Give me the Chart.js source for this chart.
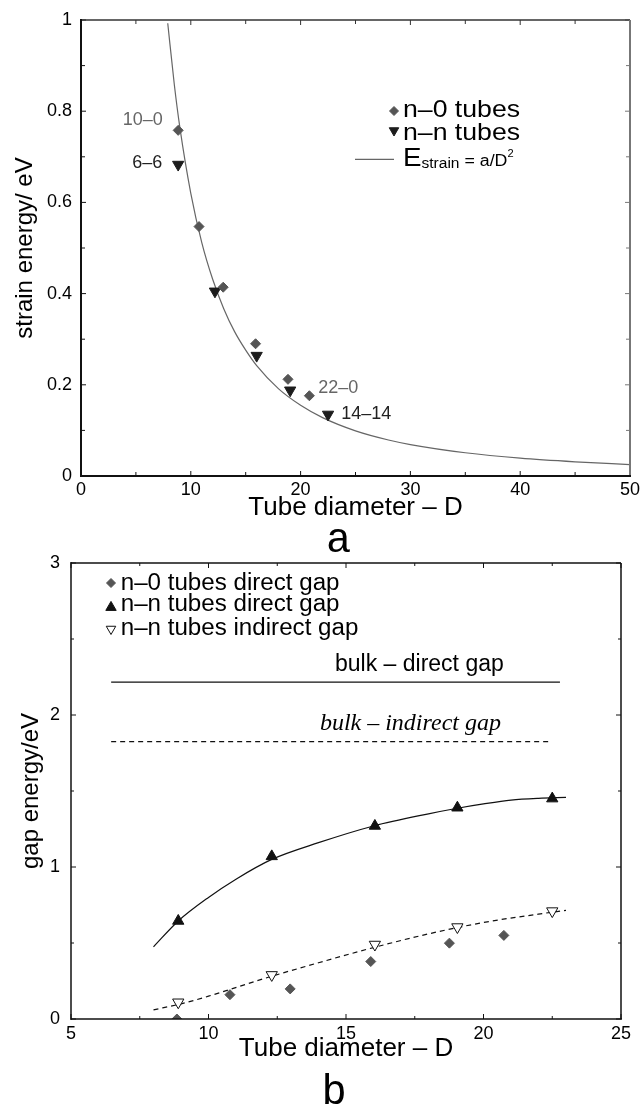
<!DOCTYPE html>
<html>
<head>
<meta charset="utf-8">
<script src="https://cdn.jsdelivr.net/npm/chart.js@4.4.1/dist/chart.umd.min.js"></script>
<style>
  body { margin: 0; background: #fff; }
  #wrap { position: relative; width: 641px; height: 1107px; }
  canvas { position: absolute; left: 0; }
  #chartA { top: 0; }
  #chartB { top: 540px; }
</style>
</head>
<body>
<div id="wrap">
  <canvas id="chartA" width="641" height="560"></canvas>
  <canvas id="chartB" width="641" height="567"></canvas>
</div>
<script>
// ---- panel a : strain energy vs diameter ----
var zigzagD = [8.85, 10.75, 12.95, 15.9, 18.85, 20.8];
var zigzagE = [0.758, 0.547, 0.414, 0.290, 0.212, 0.176];
var armD = [8.85, 12.2, 16.0, 19.05, 22.5];
var armE = [0.683, 0.405, 0.264, 0.188, 0.135];
// E_strain = a/D^2 curve
var fitD = [7.9, 8.5, 9, 10, 11, 12, 13, 14, 15, 16, 18, 20, 22, 25, 28, 30, 35, 40, 45, 50];
var fitE = [0.993, 0.858, 0.765, 0.620, 0.512, 0.431, 0.367, 0.316, 0.276, 0.242, 0.191, 0.155, 0.128, 0.099, 0.079, 0.069, 0.051, 0.039, 0.031, 0.025];

// ---- panel b : gap energy vs diameter ----
var directD0 = [8.85, 10.78, 12.97, 15.9, 18.76, 20.74];
var directE0 = [0.0, 0.16, 0.198, 0.378, 0.499, 0.55];
var directDn = [8.9, 12.3, 16.05, 19.05, 22.5];
var directEn = [0.645, 1.07, 1.27, 1.39, 1.45];
var indirectDn = [8.9, 12.3, 16.05, 19.05, 22.5];
var indirectEn = [0.11, 0.29, 0.49, 0.605, 0.71];
var directFitD = [8.0, 8.9, 10, 11, 12.3, 14, 16, 18, 19, 20, 21, 22, 23];
var directFitE = [0.475, 0.645, 0.80, 0.92, 1.05, 1.16, 1.27, 1.35, 1.385, 1.415, 1.44, 1.452, 1.458];
var indirectFitD = [8.0, 9, 10, 12, 14, 16, 18, 20, 22, 23];
var indirectFitE = [0.06, 0.10, 0.15, 0.265, 0.37, 0.47, 0.56, 0.635, 0.69, 0.715];
var bulkDirectD = [6.46, 22.78];
var bulkDirectE = [2.216, 2.216];
var bulkIndirectD = [6.46, 22.48];
var bulkIndirectE = [1.825, 1.825];

var SANS = '"Liberation Sans", Arial, sans-serif';
Chart.defaults.font.family = SANS;
Chart.defaults.color = '#000';

function pairs(xs, ys) {
  return xs.map(function (x, i) { return { x: x, y: ys[i] }; });
}

function fmt(v) { return String(Math.round(v * 10) / 10); }

// text with a little horizontal stretch, like the original postscript
function stretchText(ctx, txt, x, y, sx, align) {
  var w = ctx.measureText(txt).width * sx;
  var x0 = align === 'right' ? x - w : (align === 'center' ? x - w / 2 : x);
  ctx.save();
  ctx.translate(x0, y);
  ctx.scale(sx, 1);
  ctx.textAlign = 'left';
  ctx.fillText(txt, 0, 0);
  ctx.restore();
  return w;
}

// frame, inward ticks, text notes, legend and panel letter
var decor = {
  id: 'decor',
  afterDatasetsDraw: function (chart, args, o) {
    var ctx = chart.ctx, a = chart.chartArea;
    var xs = chart.scales.x, ys = chart.scales.y;
    ctx.save();

    // ticks
    function eachTick(min, max, minor, major, cb) {
      var n = Math.round((max - min) / minor);
      for (var i = 0; i <= n; i++) {
        var v = min + i * minor;
        var isMaj = Math.abs((v - min) / major - Math.round((v - min) / major)) < 1e-6;
        cb(v, isMaj);
      }
    }
    ctx.lineWidth = 1;
    eachTick(xs.min, xs.max, o.xMinor, o.xMajor, function (v, maj) {
      var px = xs.getPixelForValue(v), l = maj ? o.tickMaj : o.tickMin;
      ctx.strokeStyle = o.bottomColor;
      ctx.beginPath(); ctx.moveTo(px, a.bottom); ctx.lineTo(px, a.bottom - l); ctx.stroke();
      ctx.strokeStyle = o.topColor;
      ctx.beginPath(); ctx.moveTo(px, a.top); ctx.lineTo(px, a.top + l); ctx.stroke();
    });
    eachTick(ys.min, ys.max, o.yMinor, o.yMajor, function (v, maj) {
      var py = ys.getPixelForValue(v), l = maj ? o.tickMaj : o.tickMin;
      ctx.strokeStyle = o.leftColor;
      ctx.beginPath(); ctx.moveTo(a.left, py); ctx.lineTo(a.left + l, py); ctx.stroke();
      ctx.strokeStyle = o.rightColor;
      ctx.beginPath(); ctx.moveTo(a.right, py); ctx.lineTo(a.right - l, py); ctx.stroke();
    });

    // frame
    function edge(x1, y1, x2, y2, c, w) {
      ctx.strokeStyle = c; ctx.lineWidth = w;
      ctx.beginPath(); ctx.moveTo(x1, y1); ctx.lineTo(x2, y2); ctx.stroke();
    }
    edge(a.left, a.top, a.right, a.top, o.topColor, o.topWidth);
    edge(a.right, a.top, a.right, a.bottom, o.rightColor, o.rightWidth);
    edge(a.left, a.bottom, a.right + 1, a.bottom, o.bottomColor, o.bottomWidth);
    edge(a.left, a.top - 1, a.left, a.bottom + 1, o.leftColor, o.leftWidth);

    // notes anchored in data coordinates
    ctx.textBaseline = 'middle';
    (o.notes || []).forEach(function (t) {
      ctx.font = t.font;
      ctx.fillStyle = t.color || '#000';
      stretchText(ctx, t.text, xs.getPixelForValue(t.x), ys.getPixelForValue(t.y), t.sx || 1, t.align);
    });

    // legend
    var lg = o.legend;
    lg.rows.forEach(function (r) {
      var y = a.top + r.y;
      var ds = chart.data.datasets[r.ds];
      if (r.line) {
        ctx.strokeStyle = ds.borderColor; ctx.lineWidth = ds.borderWidth;
        ctx.beginPath(); ctx.moveTo(a.left + r.line[0], y + r.my); ctx.lineTo(a.left + r.line[1], y + r.my); ctx.stroke();
      } else {
        ctx.fillStyle = ds.backgroundColor; ctx.strokeStyle = ds.borderColor; ctx.lineWidth = 1;
        Chart.helpers.drawPoint(ctx, {
          pointStyle: ds.pointStyle, radius: r.r, rotation: ds.pointRotation || 0, borderWidth: 1
        }, a.left + lg.markerX, y + r.my);
      }
      var x = a.left + lg.textX;
      ctx.textBaseline = 'alphabetic';
      r.parts.forEach(function (p) {
        ctx.font = p.font; ctx.fillStyle = '#000';
        x += stretchText(ctx, p.t, x, y + (p.dy || 0), lg.sx, 'left');
      });
    });

    // panel letter
    ctx.font = o.panel.font; ctx.fillStyle = '#000';
    ctx.textAlign = 'center'; ctx.textBaseline = 'alphabetic';
    ctx.fillText(o.panel.text, (a.left + a.right) / 2 + o.panel.dx, a.bottom + o.panel.dy);
    ctx.restore();
  }
};

var common = {
  responsive: false,
  animation: false,
  devicePixelRatio: 1,
  events: [],
  plugins: { legend: { display: false }, tooltip: { enabled: false } }
};

// ---------- chart a ----------
new Chart(document.getElementById('chartA'), {
  type: 'scatter',
  data: {
    datasets: [
      { label: 'n–0 tubes', data: pairs(zigzagD, zigzagE), pointStyle: 'rectRot', pointRadius: 5,
        backgroundColor: '#555', borderColor: '#555', borderWidth: 1, order: 1 },
      { label: 'n–n tubes', data: pairs(armD, armE), pointStyle: 'triangle', pointRotation: 180, pointRadius: 6.5,
        backgroundColor: '#1c1c1c', borderColor: '#1c1c1c', borderWidth: 1, order: 1 },
      { label: 'fit', data: pairs(fitD, fitE), showLine: true, pointRadius: 0, borderColor: '#666',
        borderWidth: 1.2, cubicInterpolationMode: 'monotone', order: 2 }
    ]
  },
  options: Object.assign({}, common, {
    layout: { padding: { left: 0, right: 11, top: 20, bottom: 0 } },
    scales: {
      x: {
        type: 'linear', min: 0, max: 50,
        grid: { display: false, drawTicks: false }, border: { display: false },
        ticks: { stepSize: 10, padding: 3, font: { size: 18 }, maxRotation: 0, autoSkip: false },
        title: { display: true, text: 'Tube diameter – D', font: { size: 26, lineHeight: 1.2 }, padding: { top: 0, bottom: 36.4 } },
        afterFit: function (s) { s.height = 84; s.paddingLeft = 0; s.paddingRight = 0; }
      },
      y: {
        type: 'linear', min: 0, max: 1,
        grid: { display: false, drawTicks: false }, border: { display: false },
        ticks: { stepSize: 0.2, padding: 9, font: { size: 18 }, callback: fmt },
        title: { display: true, text: 'strain energy/ eV', font: { size: 24, lineHeight: 1.2 }, padding: { top: 10.6, bottom: 0 } },
        afterFit: function (s) { s.width = 81; s.paddingTop = 0; s.paddingBottom = 0; }
      }
    },
    plugins: Object.assign({}, common.plugins, {
      decor: {
        xMajor: 10, xMinor: 5, yMajor: 0.2, yMinor: 0.1, tickMaj: 5, tickMin: 4,
        topColor: '#333', topWidth: 1.5, rightColor: '#777', rightWidth: 2,
        bottomColor: '#111', bottomWidth: 2, leftColor: '#111', leftWidth: 2,
        notes: [
          { text: '10–0', x: 7.45, y: 0.781, align: 'right', color: '#666', font: '18px ' + SANS },
          { text: '6–6', x: 7.4, y: 0.686, align: 'right', color: '#222', font: '18px ' + SANS },
          { text: '22–0', x: 21.6, y: 0.192, align: 'left', color: '#666', font: '18px ' + SANS },
          { text: '14–14', x: 23.7, y: 0.135, align: 'left', color: '#222', font: '18px ' + SANS }
        ],
        legend: {
          markerX: 313, textX: 322, sx: 1.11,
          rows: [
            { ds: 0, y: 97.3, my: -6.3, r: 4.5, parts: [{ t: 'n–0 tubes', font: '24px ' + SANS }] },
            { ds: 1, y: 120, my: -9.5, r: 5.5, parts: [{ t: 'n–n tubes', font: '24px ' + SANS }] },
            { ds: 2, y: 145.7, my: -6.4, line: [274, 313], parts: [
              { t: 'E', font: '25px ' + SANS },
              { t: 'strain', font: '14px ' + SANS, dy: 2.6 },
              { t: ' = a/D', font: '16px ' + SANS },
              { t: '2', font: '10px ' + SANS, dy: -8.7 }
            ] }
          ]
        },
        panel: { text: 'a', font: '42px "Liberation Mono", monospace', dx: -17, dy: 76 }
      }
    })
  }),
  plugins: [decor]
});

// ---------- chart b ----------
new Chart(document.getElementById('chartB'), {
  type: 'scatter',
  data: {
    datasets: [
      { label: 'n–0 tubes direct gap', data: pairs(directD0, directE0), pointStyle: 'rectRot', pointRadius: 5,
        backgroundColor: '#555', borderColor: '#555', borderWidth: 1, order: 1 },
      { label: 'n–n tubes direct gap', data: pairs(directDn, directEn), pointStyle: 'triangle', pointRadius: 6.5,
        backgroundColor: '#111', borderColor: '#111', borderWidth: 1, order: 1 },
      { label: 'n–n tubes indirect gap', data: pairs(indirectDn, indirectEn), pointStyle: 'triangle', pointRotation: 180,
        pointRadius: 6.5, backgroundColor: '#fff', borderColor: '#111', borderWidth: 1, order: 1 },
      { label: 'direct fit', data: pairs(directFitD, directFitE), showLine: true, pointRadius: 0,
        borderColor: '#111', borderWidth: 1.2, cubicInterpolationMode: 'monotone', order: 2 },
      { label: 'indirect fit', data: pairs(indirectFitD, indirectFitE), showLine: true, pointRadius: 0,
        borderColor: '#111', borderWidth: 1.2, borderDash: [5, 4], cubicInterpolationMode: 'monotone', order: 2 },
      { label: 'bulk direct', data: pairs(bulkDirectD, bulkDirectE), showLine: true, pointRadius: 0,
        borderColor: '#111', borderWidth: 1.3, order: 2 },
      { label: 'bulk indirect', data: pairs(bulkIndirectD, bulkIndirectE), showLine: true, pointRadius: 0,
        borderColor: '#111', borderWidth: 1.2, borderDash: [5, 4], order: 2 }
    ]
  },
  options: Object.assign({}, common, {
    layout: { padding: { left: 0, right: 20, top: 23, bottom: 0 } },
    scales: {
      x: {
        type: 'linear', min: 5, max: 25,
        grid: { display: false, drawTicks: false }, border: { display: false },
        ticks: { stepSize: 5, padding: 4, font: { size: 18 }, maxRotation: 0, autoSkip: false },
        title: { display: true, text: 'Tube diameter – D', font: { size: 26, lineHeight: 1.2 }, padding: { top: 0, bottom: 42.4 } },
        afterFit: function (s) { s.height = 88; s.paddingLeft = 0; s.paddingRight = 0; }
      },
      y: {
        type: 'linear', min: 0, max: 3,
        grid: { display: false, drawTicks: false }, border: { display: false },
        ticks: { stepSize: 1, padding: 11, font: { size: 18 }, callback: fmt },
        title: { display: true, text: 'gap energy/eV', font: { size: 24, lineHeight: 1.2 }, padding: { top: 17, bottom: 0 } },
        afterFit: function (s) { s.width = 71; s.paddingTop = 0; s.paddingBottom = 0; }
      }
    },
    plugins: Object.assign({}, common.plugins, {
      decor: {
        xMajor: 5, xMinor: 2.5, yMajor: 1, yMinor: 0.5, tickMaj: 5, tickMin: 3,
        topColor: '#111', topWidth: 1.5, rightColor: '#111', rightWidth: 1.5,
        bottomColor: '#111', bottomWidth: 1.5, leftColor: '#111', leftWidth: 1.5,
        notes: [
          { text: 'bulk – direct gap', x: 14.6, y: 2.33, align: 'left', font: '23px ' + SANS },
          { text: 'bulk – indirect gap', x: 14.05, y: 1.94, align: 'left', font: 'italic 24px "Liberation Serif", serif' }
        ],
        legend: {
          markerX: 40, textX: 49.7, sx: 1.05,
          rows: [
            { ds: 0, y: 26.7, my: -6.7, r: 4.5, parts: [{ t: 'n–0 tubes direct gap', font: '23px ' + SANS }] },
            { ds: 1, y: 48.4, my: -4, r: 6, parts: [{ t: 'n–n tubes direct gap', font: '23px ' + SANS }] },
            { ds: 2, y: 71.7, my: -5.7, r: 5.5, parts: [{ t: 'n–n tubes indirect gap', font: '23px ' + SANS }] }
          ]
        },
        panel: { text: 'b', font: '42px "Liberation Mono", monospace', dx: -12, dy: 85 }
      }
    })
  }),
  plugins: [decor]
});
</script>
</body>
</html>
